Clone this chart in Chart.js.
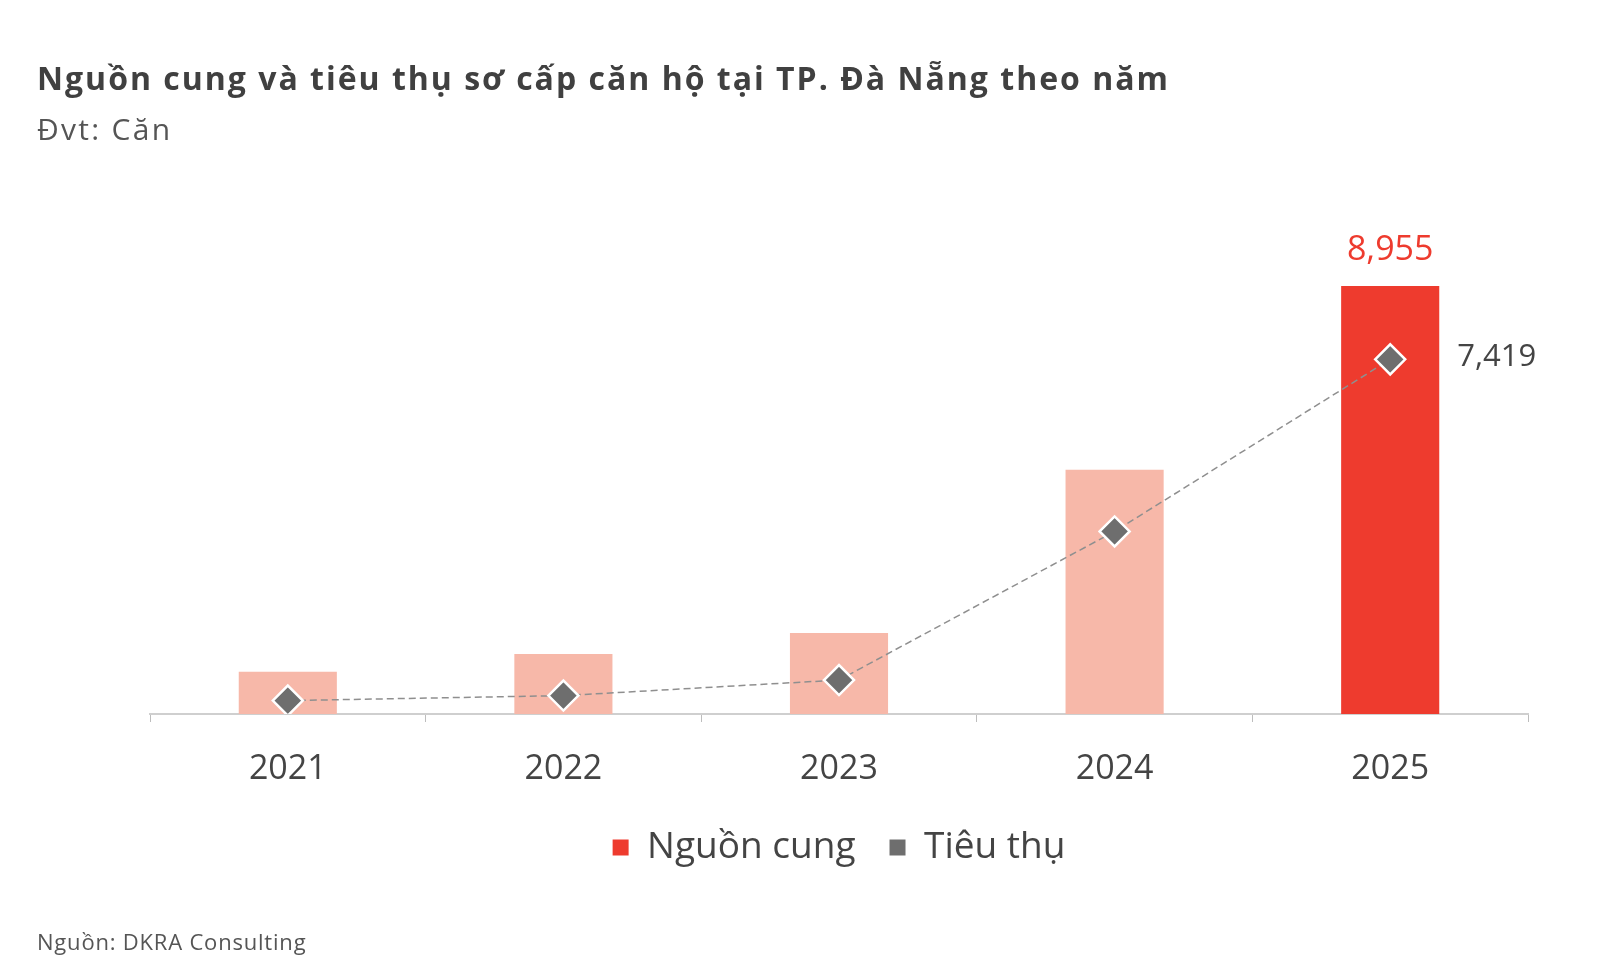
<!DOCTYPE html>
<html>
<head>
<meta charset="utf-8">
<script src="https://cdn.jsdelivr.net/npm/chart.js@4.4.1/dist/chart.umd.min.js"></script>
<style>
  body { margin: 0; background: #fff; font-family: "Open Sans", "Noto Sans", sans-serif; }
  #wrap { position: relative; width: 1600px; height: 980px; overflow: hidden; }
  #chart { position: absolute; left: 0; top: 0; }
  .title, .unit, .source { position: absolute; left: 37px; line-height: 1; white-space: nowrap; }
  .title { top: 62px; font-size: 32px; font-weight: 700; color: #404040; letter-spacing: 2px; }
  .unit { top: 114px; font-size: 30px; color: #555; letter-spacing: 2.3px; }
  .source { top: 930px; font-size: 22px; color: #555; letter-spacing: 0.8px; }
</style>
</head>
<body>
<div id="wrap">
  <canvas id="chart" width="1600" height="980"></canvas>
  <div class="title">Nguồn cung và tiêu thụ sơ cấp căn hộ tại TP. Đà Nẵng theo năm</div>
  <div class="unit">Đvt: Căn</div>
  <div class="source">Nguồn: DKRA Consulting</div>
</div>
<script>
const years = ['2021', '2022', '2023', '2024', '2025'];
const supply = [885, 1255, 1695, 5110, 8955];
const sales = [280, 385, 710, 3820, 7419];
const supplyColors = ['#f7b8a9', '#f7b8a9', '#f7b8a9', '#f7b8a9', '#ee3b2e'];

const RED = '#ee3b2e';
const GREY = '#6e6e6e';
const TEXT = '#444';
const FONT = '"Open Sans", "Noto Sans", sans-serif';

// only 2025 gets value labels
const lastLabels = {
  id: 'lastLabels',
  afterDatasetsDraw(chart) {
    const ctx = chart.ctx;
    const i = years.length - 1;
    const bar = chart.getDatasetMeta(0).data[i];
    const pt = chart.getDatasetMeta(1).data[i];
    ctx.save();
    ctx.textBaseline = 'middle';
    ctx.font = '34px ' + FONT;
    ctx.fillStyle = RED;
    ctx.textAlign = 'center';
    ctx.fillText(supply[i].toLocaleString('en-US'), bar.x, bar.y - 36);
    ctx.font = '31px ' + FONT;
    ctx.fillStyle = TEXT;
    ctx.textAlign = 'left';
    ctx.fillText(sales[i].toLocaleString('en-US'), pt.x + 67, pt.y - 2);
    ctx.restore();
  }
};

new Chart(document.getElementById('chart'), {
  type: 'bar',
  data: {
    labels: years,
    datasets: [
      {
        type: 'bar',
        label: 'Nguồn cung',
        data: supply,
        backgroundColor: supplyColors,
        categoryPercentage: 1,
        barPercentage: 0.356,
        order: 1
      },
      {
        type: 'line',
        label: 'Tiêu thụ',
        data: sales,
        borderColor: '#8f8f8f',
        borderWidth: 1.5,
        borderDash: [7, 4],
        pointStyle: 'rectRot',
        pointRadius: 15,
        pointBackgroundColor: GREY,
        pointBorderColor: '#fff',
        pointBorderWidth: 2.5,
        tension: 0,
        order: 0
      }
    ]
  },
  options: {
    responsive: false,
    animation: false,
    layout: { padding: { left: 150, right: 72, top: 236, bottom: 104 } },
    scales: {
      x: {
        offset: true,
        afterFit(scale) { scale.height = 81; },
        border: { color: '#cfcfcf', width: 2 },
        grid: { display: true, drawOnChartArea: false, drawTicks: true, tickLength: 8, offset: true, color: '#bdbdbd' },
        ticks: { color: TEXT, padding: 27, font: { size: 34, family: FONT } }
      },
      y: { display: false, min: 0, max: 10000 }
    },
    plugins: {
      tooltip: { enabled: false },
      legend: {
        position: 'bottom',
        labels: {
          color: TEXT,
          boxWidth: 16,
          boxHeight: 16,
          padding: 34,
          font: { size: 37, family: FONT },
          generateLabels() {
            return [
              { text: 'Nguồn cung', fillStyle: RED, strokeStyle: RED, lineWidth: 0, fontColor: TEXT, datasetIndex: 0 },
              { text: 'Tiêu thụ', fillStyle: GREY, strokeStyle: GREY, lineWidth: 0, fontColor: TEXT, datasetIndex: 1 }
            ];
          }
        }
      }
    }
  },
  plugins: [lastLabels]
});
</script>
</body>
</html>
